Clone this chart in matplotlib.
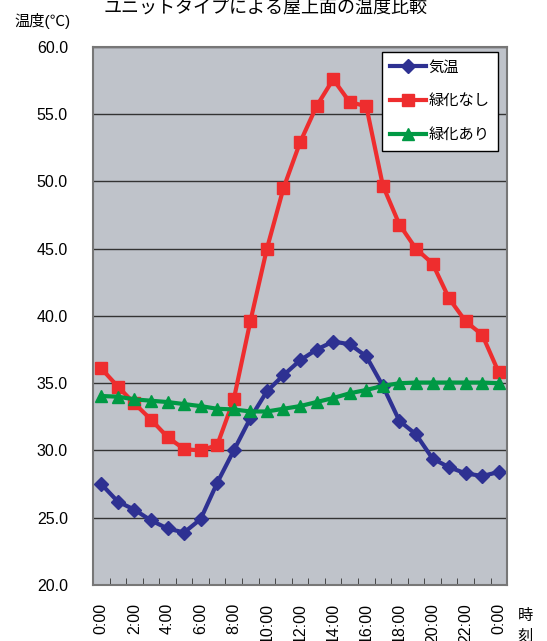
#!/usr/bin/env python3

import matplotlib
matplotlib.use("Agg")
from matplotlib import pyplot as plt
from matplotlib.ticker import FixedLocator

plt.rcParams['font.family'] = ['Liberation Sans', 'Noto Sans CJK JP', 'DejaVu Sans']

# Hourly readings, 0:00 to the next 0:00
hours = list(range(25))
hour_labels = ["{}:00".format(h % 24) for h in range(0, 25, 2)]

air_temp = [27.5, 26.2, 25.6, 24.8, 24.2, 23.9, 24.9, 27.6, 30.0, 32.4,
            34.4, 35.6, 36.7, 37.5, 38.1, 37.9, 37.0, 34.8, 32.2, 31.2,
            29.4, 28.75, 28.3, 28.1, 28.4]
no_green = [36.1, 34.75, 33.5, 32.3, 31.0, 30.1, 30.0, 30.4, 33.8, 39.6,
            45.0, 49.5, 52.9, 55.6, 57.6, 55.9, 55.6, 49.7, 46.8, 45.0,
            43.9, 41.3, 39.6, 38.6, 35.8]
with_green = [34.05, 34.0, 33.8, 33.7, 33.6, 33.45, 33.3, 33.1, 33.05, 32.9,
              32.9, 33.1, 33.3, 33.6, 33.9, 34.25, 34.5, 34.8, 35.0, 35.05,
              35.05, 35.05, 35.05, 35.05, 35.0]

series = [
    ("気温", air_temp, "#2E3192", "D", 7),
    ("緑化なし", no_green, "#EE2D2E", "s", 8),
    ("緑化あり", with_green, "#009944", "^", 8),
]

fig = plt.figure(figsize=(5.47, 6.41), dpi=100)
ax = fig.add_axes([0.170, 0.0874, 0.757, 0.8393])
ax.set_facecolor("#BFC3CA")

for name, values, color, marker, size in series:
    ax.plot(hours, values, color=color, marker=marker, markersize=size,
            linewidth=3.0, label=name, clip_on=False)

ax.set_xlim(-0.5, 24.5)
ax.set_ylim(20, 60)
ax.set_yticks(range(20, 61, 5))
ax.set_yticklabels(["{:.1f}".format(v) for v in range(20, 61, 5)], fontsize=11.5)
ax.yaxis.grid(True, color="#333333", linewidth=1.0)
ax.set_axisbelow(True)

ax.set_xticks(range(0, 25, 2))
ax.set_xticklabels(hour_labels, rotation=90, fontsize=11.5, va="top")
ax.xaxis.set_minor_locator(FixedLocator([h + 0.5 for h in range(-1, 25)]))
ax.tick_params(axis="x", which="major", length=0, pad=13)
ax.tick_params(axis="x", which="minor", direction="in", length=5, color="#333333")
ax.tick_params(axis="y", length=0, pad=18)

for side in ax.spines.values():
    side.set_color("#777777")
    side.set_linewidth(1.5)

leg = fig.legend(loc="upper left", bbox_to_anchor=(382 / 547, 1 - 52 / 641),
                 fontsize=11, fancybox=False, framealpha=1, edgecolor="black",
                 handlelength=2.3, handletextpad=0.2, labelspacing=1.3,
                 borderpad=0.55, borderaxespad=0)
leg.get_frame().set_linewidth(1.0)

fig.text(0.485, 1 - 8 / 641, "ユニットタイプによる屋上面の温度比較", ha="center",
         va="center", fontsize=13)
fig.text(0.027, 1 - 21 / 641, "温度(℃)", ha="left", va="center", fontsize=11)
fig.text(0.96, 0.023, "時\n刻", ha="center", va="center", fontsize=11,
         linespacing=1.6)

fig.savefig("out.png", dpi=100)
